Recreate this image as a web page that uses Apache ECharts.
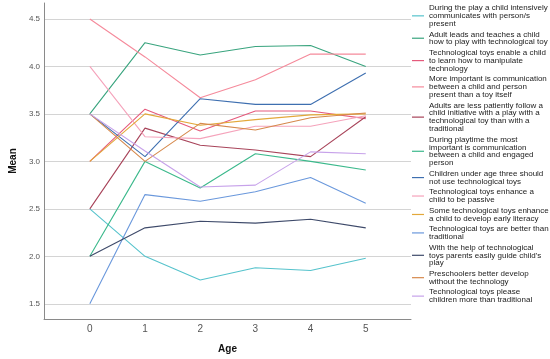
<!DOCTYPE html>
<html>
<head>
<meta charset="utf-8">
<script src="https://cdn.jsdelivr.net/npm/echarts@6/dist/echarts.min.js"></script>
<style>
html,body{margin:0;padding:0;background:#fff;}
#chart{width:550px;height:359px;}
</style>
</head>
<body>
<div id="chart"></div>
<script>
// ---- data ----
var ages = [0, 1, 2, 3, 4, 5];
var xTicks = [0, 1, 2, 3, 4, 5];
var yTicks = [1.5, 2.0, 2.5, 3.0, 3.5, 4.0, 4.5];

var seriesNames = [
  "During the play a child intensively communicates with person/s present",
  "Adult leads and teaches a child how to play with technological toy",
  "Technological toys enable a child to learn how to manipulate technology",
  "More important is communication between a child and person present than a toy itself",
  "Adults are less patiently follow a child initiative with a play with a technological toy than with a traditional",
  "During playtime the most important is communication between a child and engaged person",
  "Children under age three should not use technological toys",
  "Technological toys enhance a child to be passive",
  "Some technological toys enhance a child to develop early literacy",
  "Technological toys are better than traditional",
  "With the help of technological toys parents easily guide child's play",
  "Preschoolers better develop without the technology",
  "Technological toys please children more than traditional"
];
var legendLines = [
  "During the play a child intensively\ncommunicates with person/s\npresent",
  "Adult leads and teaches a child\nhow to play with technological toy",
  "Technological toys enable a child\nto learn how to manipulate\ntechnology",
  "More important is communication\nbetween a child and person\npresent than a toy itself",
  "Adults are less patiently follow a\nchild initiative with a play with a\ntechnological toy than with a\ntraditional",
  "During playtime the most\nimportant is communication\nbetween a child and engaged\nperson",
  "Children under age three should\nnot use technological toys",
  "Technological toys enhance a\nchild to be passive",
  "Some technological toys enhance\na child to develop early literacy",
  "Technological toys are better than\ntraditional",
  "With the help of technological\ntoys parents easily guide child's\nplay",
  "Preschoolers better develop\nwithout the technology",
  "Technological toys please\nchildren more than traditional"
];

var s1  = [2.5, 2.0, 1.75, 1.88, 1.85, 1.98];
var s2  = [3.5, 4.25, 4.12, 4.21, 4.22, 4.0];
var s3  = [3.0, 3.55, 3.32, 3.53, 3.53, 3.45];
var s4  = [4.5, 4.1, 3.67, 3.86, 4.13, 4.13];
var s5  = [2.5, 3.35, 3.17, 3.12, 3.05, 3.47];
var s6  = [2.0, 3.0, 2.72, 3.08, 3.0, 2.91];
var s7  = [3.5, 3.05, 3.66, 3.6, 3.6, 3.93];
var s8  = [4.0, 3.26, 3.24, 3.37, 3.37, 3.48];
var s9  = [3.0, 3.5, 3.38, 3.44, 3.49, 3.5];
var s10 = [1.5, 2.65, 2.58, 2.68, 2.83, 2.56];
var s11 = [2.0, 2.3, 2.37, 2.35, 2.39, 2.3];
var s12 = [3.5, 3.0, 3.4, 3.33, 3.46, 3.51];
var s13 = [3.5, 3.11, 2.73, 2.75, 3.1, 3.08];
var allValues = [s1, s2, s3, s4, s5, s6, s7, s8, s9, s10, s11, s12, s13];

var colors = ['#56c3cc', '#39a47e', '#e55a7c', '#f58a9b', '#a8445a', '#3cb98c', '#3e6fb0',
              '#f5a3bb', '#e3a83a', '#6a98dc', '#3e4a6a', '#d6894c', '#c7a2ea'];

// ---- chart ----
var FONT = '"Liberation Sans", Arial, sans-serif';
var wrapMap = {};
seriesNames.forEach(function (n, i) { wrapMap[n] = legendLines[i]; });

var series = seriesNames.map(function (name, i) {
  return {
    name: name,
    type: 'line',
    data: ages.map(function (a, j) { return [a, allValues[i][j]]; }),
    showSymbol: false,
    symbol: 'none',
    lineStyle: { width: 1.1, color: colors[i] },
    itemStyle: { color: colors[i] },
    emphasis: { disabled: true },
    animation: false,
    z: 3
  };
});

var chart = echarts.init(document.getElementById('chart'), null, { renderer: 'canvas' });
chart.setOption({
  animation: false,
  color: colors,
  grid: { left: 33, right: 139, top: 3, bottom: 39, containLabel: false },
  xAxis: {
    type: 'value',
    min: -0.83,
    max: 5.82,
    name: 'Age',
    nameLocation: 'middle',
    nameGap: 25,
    nameTextStyle: { fontFamily: FONT, fontSize: 10, fontWeight: 'bold', color: '#111' },
    axisLine: { show: true, onZero: false, lineStyle: { color: '#8a8a8a', width: 1 } },
    axisTick: { show: false, customValues: xTicks },
    axisLabel: { customValues: xTicks, fontFamily: FONT, fontSize: 10, color: '#555', margin: 5 },
    splitLine: { show: false }
  },
  yAxis: {
    type: 'value',
    min: 1.34,
    max: 4.668,
    name: 'Mean',
    nameLocation: 'middle',
    nameRotate: 90,
    nameGap: 25,
    nameTextStyle: { fontFamily: FONT, fontSize: 10, fontWeight: 'bold', color: '#111' },
    axisLine: { show: true, onZero: false, lineStyle: { color: '#8a8a8a', width: 1 } },
    axisTick: { show: false, customValues: yTicks },
    axisLabel: {
      customValues: yTicks, fontFamily: FONT, fontSize: 8, color: '#555', margin: 4,
      formatter: function (v) { return v.toFixed(1); }
    },
    splitLine: { show: true, lineStyle: { color: '#d4d4d4', width: 1 } }
  },
  legend: {
    type: 'plain',
    orient: 'vertical',
    left: 412,
    top: 4,
    padding: 0,
    itemGap: 2.6,
    itemWidth: 12,
    itemHeight: 1.2,
    icon: 'rect',
    selectedMode: false,
    data: seriesNames,
    formatter: function (n) { return wrapMap[n]; },
    textStyle: { fontFamily: FONT, fontSize: 8, lineHeight: 7.85, color: '#222' }
  },
  series: series
});
</script>
</body>
</html>
